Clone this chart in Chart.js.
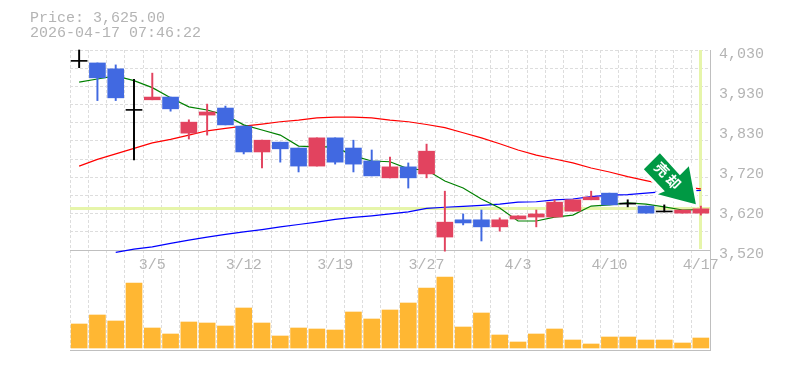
<!DOCTYPE html>
<html>
<head>
<meta charset="utf-8">
<title>Price chart</title>
<style>
  html, body { margin: 0; padding: 0; background: #fff; }
  canvas { display: block; }
</style>
<script src="https://cdn.jsdelivr.net/npm/chart.js@4/dist/chart.umd.min.js"></script>
</head>
<body>
<canvas id="priceChart" width="785" height="370"></canvas>
<script>
const categories = ['2/27','3/2','3/3','3/4','3/5','3/6','3/9','3/10','3/11','3/12','3/13','3/16','3/17','3/18','3/19','3/23','3/24','3/25','3/26','3/27','3/30','3/31','4/1','4/2','4/3','4/6','4/7','4/8','4/9','4/10','4/13','4/14','4/15','4/16','4/17'];
const xTickLabels = ['3/5','3/12','3/19','3/27','4/3','4/10','4/17'];

const opens  = [4001,3997,3982,3876,3903,3910,3818,3864,3882,3836,3770,3795,3780,3734,3806,3780,3747,3704,3732,3714,3553,3597,3597,3579,3599,3604,3604,3619,3648,3665,3637,3632,3617,3614,3614];
const closes = [4001,3959,3908,3876,3910,3880,3846,3872,3839,3770,3800,3778,3734,3806,3744,3739,3709,3732,3704,3772,3591,3589,3579,3597,3607,3612,3642,3648,3655,3635,3637,3614,3617,3622,3625];
const highs  = [4030,3997,3992,3955,3971,3910,3852,3892,3887,3836,3800,3795,3780,3806,3806,3800,3775,3757,3742,3790,3670,3612,3622,3602,3607,3622,3648,3648,3670,3665,3648,3632,3635,3622,3632];
const lows   = [3985,3901,3901,3750,3903,3874,3803,3813,3839,3765,3729,3744,3719,3734,3739,3719,3709,3704,3678,3704,3517,3584,3543,3568,3599,3579,3604,3619,3648,3635,3630,3614,3617,3614,3609];

const maShort = [3948,3956,3964,3952,3934,3908,3885,3877,3864,3839,3826,3813,3785,3783,3783,3760,3747,3745,3727,3724,3696,3678,3650,3627,3594,3594,3604,3609,3632,3635,3640,3637,3630,3622,3623];
const maMid   = [3734,3751,3765,3779,3793,3802,3813,3824,3830,3836,3841,3847,3851,3857,3859,3859,3857,3851,3847,3840,3832,3819,3806,3791,3775,3762,3752,3742,3729,3719,3707,3697,3687,3681,3676];
const maLong  = [null,null,3514,3522,3528,3537,3545,3553,3560,3566,3572,3579,3585,3591,3598,3603,3607,3612,3617,3626,3629,3631,3634,3637,3642,3643,3648,3650,3656,3660,3661,3665,3669,3670,3672];

const volumes = [24,33,27,65,20,14,26,25,22,40,25,12,20,19,18,36,29,38,45,60,71,21,35,13,6,14,19,8,4,11,11,8,8,5,10];

const priceTicks = [3520,3622,3724,3826,3928,4030];
const priceTickLabels = ['3,520','3,620','3,720','3,830','3,930','4,030'];

const currentPrice = 3625;
const priceText = 'Price: 3,625.00';
const timeText = '2026-04-17 07:46:22';
const signalText = ['売', '却'];

const FONT_FAMILY = '"Liberation Mono"';
const TEXT_GRAY = '#b4b4b4';
const GRID_GRAY = '#dddddd';
const AXIS_GRAY = '#bfbfbf';
const UP = '#e2435f';
const DOWN = '#4169e1';

function candleColor(i) {
  if (closes[i] === opens[i]) return '#000000';
  return closes[i] > opens[i] ? UP : DOWN;
}

// levels of the price panel: 11 horizontal grid lines, labels on their own step
function priceGridValues() {
  const out = [];
  for (let k = 0; k <= 11; k++) out.push(3520 + k * 510 / 11);
  return out;
}

const headerPlugin = {
  id: 'header',
  afterDraw(chart) {
    const ctx = chart.ctx;
    ctx.save();
    ctx.font = '15px ' + FONT_FAMILY;
    ctx.fillStyle = TEXT_GRAY;
    ctx.textBaseline = 'middle';
    ctx.fillText(priceText, 30, 18);
    ctx.fillText(timeText, 30, 33);
    ctx.restore();
  }
};

// current price cross, under the marks
const priceLinesPlugin = {
  id: 'priceLines',
  beforeDatasetsDraw(chart) {
    const { ctx, chartArea, scales } = chart;
    const y = scales.y.getPixelForValue(currentPrice);
    const x = scales.x.getPixelForValue(categories.length - 1);
    ctx.save();
    ctx.strokeStyle = '#e6f5aa';
    ctx.lineWidth = 3;
    ctx.beginPath();
    ctx.moveTo(chartArea.left, Math.floor(y) + 0.5);
    ctx.lineTo(chartArea.right, Math.floor(y) + 0.5);
    ctx.moveTo(Math.floor(x) + 0.5, chartArea.top);
    ctx.lineTo(Math.floor(x) + 0.5, scales.y.bottom - 1);
    ctx.stroke();
    ctx.restore();
  }
};

// sell arrow, placed from the last candle
const arrowPlugin = {
  id: 'signalArrow',
  afterDatasetsDraw(chart) {
    const { ctx, scales } = chart;
    const tipX = scales.x.getPixelForValue(categories.length - 1) - 5;
    const tipY = scales.y.getPixelForValue(currentPrice) - 4.5;
    const shape = [[0,0],[-7,-38],[-16,-29],[-36,-51],[-52,-35],[-31,-13],[-38,-10]];
    ctx.save();
    ctx.beginPath();
    shape.forEach((p, i) => {
      if (i === 0) ctx.moveTo(tipX + p[0], tipY + p[1]);
      else ctx.lineTo(tipX + p[0], tipY + p[1]);
    });
    ctx.closePath();
    ctx.lineJoin = 'round';
    ctx.lineWidth = 6;
    ctx.strokeStyle = '#ffffff';
    ctx.stroke();
    ctx.fillStyle = '#009944';
    ctx.fill();
    ctx.fillStyle = '#ffffff';
    ctx.font = 'bold 14px "Noto Sans CJK JP"';
    ctx.textAlign = 'center';
    ctx.textBaseline = 'middle';
    const spots = [[-34,-35],[-22.5,-22.5]];
    signalText.forEach((ch, i) => {
      ctx.save();
      ctx.translate(tipX + spots[i][0], tipY + spots[i][1]);
      ctx.rotate(Math.PI / 4);
      ctx.fillText(ch, 0, 0);
      ctx.restore();
    });
    ctx.restore();
  }
};

const isGridValue = (v) => priceGridValues().some((g) => Math.abs(g - v) < 0.01);

new Chart(document.getElementById('priceChart'), {
  data: {
    labels: categories,
    datasets: [
      { type: 'bar', data: categories.map((_, i) => [opens[i], closes[i]]), yAxisID: 'y',
        backgroundColor: categories.map((_, i) => candleColor(i)), barThickness: 16, minBarLength: 1, grouped: false, order: 1 },
      { type: 'bar', data: categories.map((_, i) => [lows[i], highs[i]]), yAxisID: 'y', clip: false,
        backgroundColor: categories.map((_, i) => candleColor(i)), barThickness: 1.3, grouped: false, order: 2 },
      { type: 'line', data: maShort, yAxisID: 'y', borderColor: '#008000', borderWidth: 1.2, pointRadius: 0, tension: 0, order: 3 },
      { type: 'line', data: maMid, yAxisID: 'y', borderColor: '#ff0000', borderWidth: 1.2, pointRadius: 0, tension: 0, order: 3 },
      { type: 'line', data: maLong, yAxisID: 'y', clip: false, borderColor: '#0000ff', borderWidth: 1.2, pointRadius: 0, tension: 0, order: 3 },
      { type: 'bar', data: volumes, yAxisID: 'yVol', backgroundColor: '#ffb733', barThickness: 16, grouped: false, order: 4 }
    ]
  },
  options: {
    responsive: false,
    animation: false,
    events: [],
    layout: { padding: { left: 70, top: 50, right: 20, bottom: 20 } },
    plugins: { legend: { display: false }, tooltip: { enabled: false } },
    scales: {
      x: {
        position: { y: 3520 },
        offset: true,
        grid: { offset: true, color: GRID_GRAY, drawTicks: false },
        border: { color: AXIS_GRAY, dash: [3, 2] },
        ticks: {
          autoSkip: false, maxRotation: 0, padding: 6, color: TEXT_GRAY, font: { family: FONT_FAMILY, size: 15 },
          callback(value) {
            const label = this.getLabelForValue(value);
            return xTickLabels.includes(label) ? label : '';
          }
        }
      },
      y: {
        position: 'right', stack: 'panes', stackWeight: 2, min: 3520, max: 4030,
        afterBuildTicks(scale) {
          const values = priceGridValues().concat(priceTicks.filter((v) => !isGridValue(v)));
          scale.ticks = values.sort((a, b) => a - b).map((value) => ({ value }));
        },
        afterFit(scale) { scale.width = 55; },
        grid: {
          drawTicks: false,
          color: (c) => (c.tick && isGridValue(c.tick.value) ? GRID_GRAY : 'rgba(0,0,0,0)')
        },
        border: { color: AXIS_GRAY, dash: [3, 2] },
        ticks: {
          autoSkip: false, padding: 9, labelOffset: 4, color: TEXT_GRAY, font: { family: FONT_FAMILY, size: 15 },
          callback(value) {
            const i = priceTicks.indexOf(value);
            return i >= 0 ? priceTickLabels[i] : '';
          }
        }
      },
      yVol: {
        position: 'right', stack: 'panes', stackWeight: 1, min: -2, max: 98,
        afterBuildTicks(scale) { scale.ticks = [{ value: -2 }]; },
        afterFit(scale) { scale.width = 55; },
        grid: { drawTicks: false, color: AXIS_GRAY },
        border: { color: AXIS_GRAY },
        ticks: { padding: 9, font: { family: FONT_FAMILY, size: 15 }, callback: () => '' }
      }
    }
  },
  plugins: [priceLinesPlugin, arrowPlugin, headerPlugin]
});
</script>
</body>
</html>
